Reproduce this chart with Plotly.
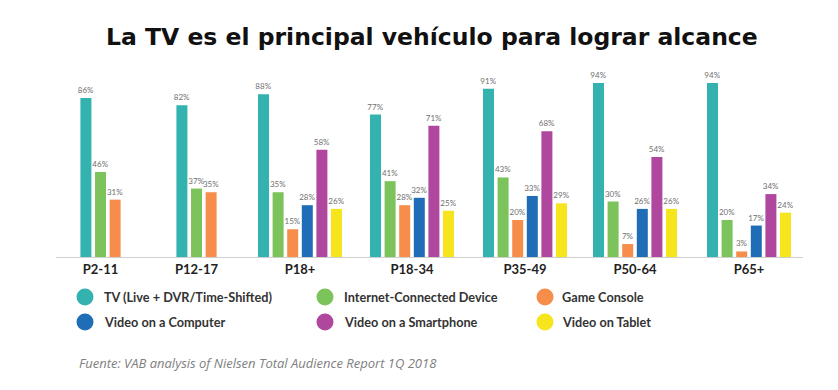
import plotly.graph_objects as go

categories = ["P2-11", "P12-17", "P18+", "P18-34", "P35-49", "P50-64", "P65+"]
series_names = [
    "TV (Live + DVR/Time-Shifted)",
    "Internet-Connected Device",
    "Game Console",
    "Video on a Computer",
    "Video on a Smartphone",
    "Video on Tablet",
]
tv = [86, 82, 88, 77, 91, 94, 94]
internet = [46, 37, 35, 41, 43, 30, 20]
console = [31, 35, 15, 28, 20, 7, 3]
computer = [None, None, 28, 32, 33, 26, 17]
smartphone = [None, None, 58, 71, 68, 54, 34]
tablet = [None, None, 26, 25, 29, 26, 24]
values = [tv, internet, console, computer, smartphone, tablet]

colors = ["#33B2B0", "#7DC35B", "#F68D4A", "#1F6DB6", "#B0479F", "#F6E51C"]
title = "La TV es el principal vehículo para lograr alcance"
source = "Fuente: VAB analysis of Nielsen Total Audience Report 1Q 2018"

# layout (pixel-like units; OFF compensates the page's default body margin)
W, H = 838, 390
OFF = 8
PL, PR = 56, 803          # plot area x in px (page coords)
PT, PB = 72, 257          # y px of 100% and 0%
group_centers = [100.5, 196.5, 300, 412, 525, 635, 749]
pitch = 14.6
bar_w = 11

fig = go.Figure()
for s, (name, vals, col) in enumerate(zip(series_names, values, colors)):
    xs, ys, txt = [], [], []
    for g, v in enumerate(vals):
        if v is None:
            continue
        n = sum(1 for ser in values if ser[g] is not None)
        idx = sum(1 for ser in values[:s] if ser[g] is not None)
        xs.append(group_centers[g] + (idx - (n - 1) / 2) * pitch)
        ys.append(v)
        txt.append(f"{v}%")
    fig.add_trace(go.Bar(
        x=xs, y=ys, width=bar_w, name=name, marker=dict(color=col, line=dict(width=0)),
        text=txt, textposition="outside", cliponaxis=False, constraintext="none",
        textfont=dict(size=8, color="#707070", family="Lato"),
        showlegend=False,
    ))

def px(xp):
    return (xp - PL) / (PR - PL)

def py(yp):
    return (PB - yp) / (PB - PT)

shapes = []
annotations = []
leg_cols = [(85, 102), (325, 342), (545, 560)]
leg_rows = [297, 322]
r = 8.5
for i, (name, col) in enumerate(zip(series_names, colors)):
    cx, tx = leg_cols[i % 3]
    cy = leg_rows[i // 3]
    shapes.append(dict(type="circle", xref="paper", yref="paper",
                       x0=px(cx - r), x1=px(cx + r), y0=py(cy + r), y1=py(cy - r),
                       fillcolor=col, line=dict(width=0)))
    annotations.append(dict(text=name, xref="paper", yref="paper", x=px(tx), y=py(cy),
                            xanchor="left", yanchor="middle", showarrow=False,
                            font=dict(size=12.7, color="#333333", family="Lato", weight="bold")))

annotations.append(dict(text=f"<i>{source}</i>", xref="paper", yref="paper",
                        x=px(77), y=py(363), xanchor="left", yanchor="middle",
                        showarrow=False, font=dict(size=13, color="#808080", family="Open Sans")))
annotations.append(dict(text=f"<b>{title}</b>", xref="paper", yref="paper",
                        x=px(432), y=py(37), xanchor="center", yanchor="middle",
                        showarrow=False, font=dict(size=23.5, color="#111111", family="DejaVu Sans")))

fig.update_layout(
    width=W, height=H,
    margin=dict(l=PL - OFF, r=W - PR + OFF, t=PT - OFF, b=H - PB + OFF, pad=0),
    paper_bgcolor="white", plot_bgcolor="white",
    barmode="overlay",
    xaxis=dict(range=[PL, PR], tickmode="array", tickvals=group_centers, ticktext=categories,
               showgrid=False, zeroline=False, showline=True, linecolor="#D0D0D0", linewidth=1,
               ticks="", tickfont=dict(size=13, color="#222222", family="Lato", weight="bold"),
               fixedrange=True),
    yaxis=dict(range=[0, 100], visible=False, fixedrange=True),
    shapes=shapes, annotations=annotations,
)

fig.write_html("out.html")
